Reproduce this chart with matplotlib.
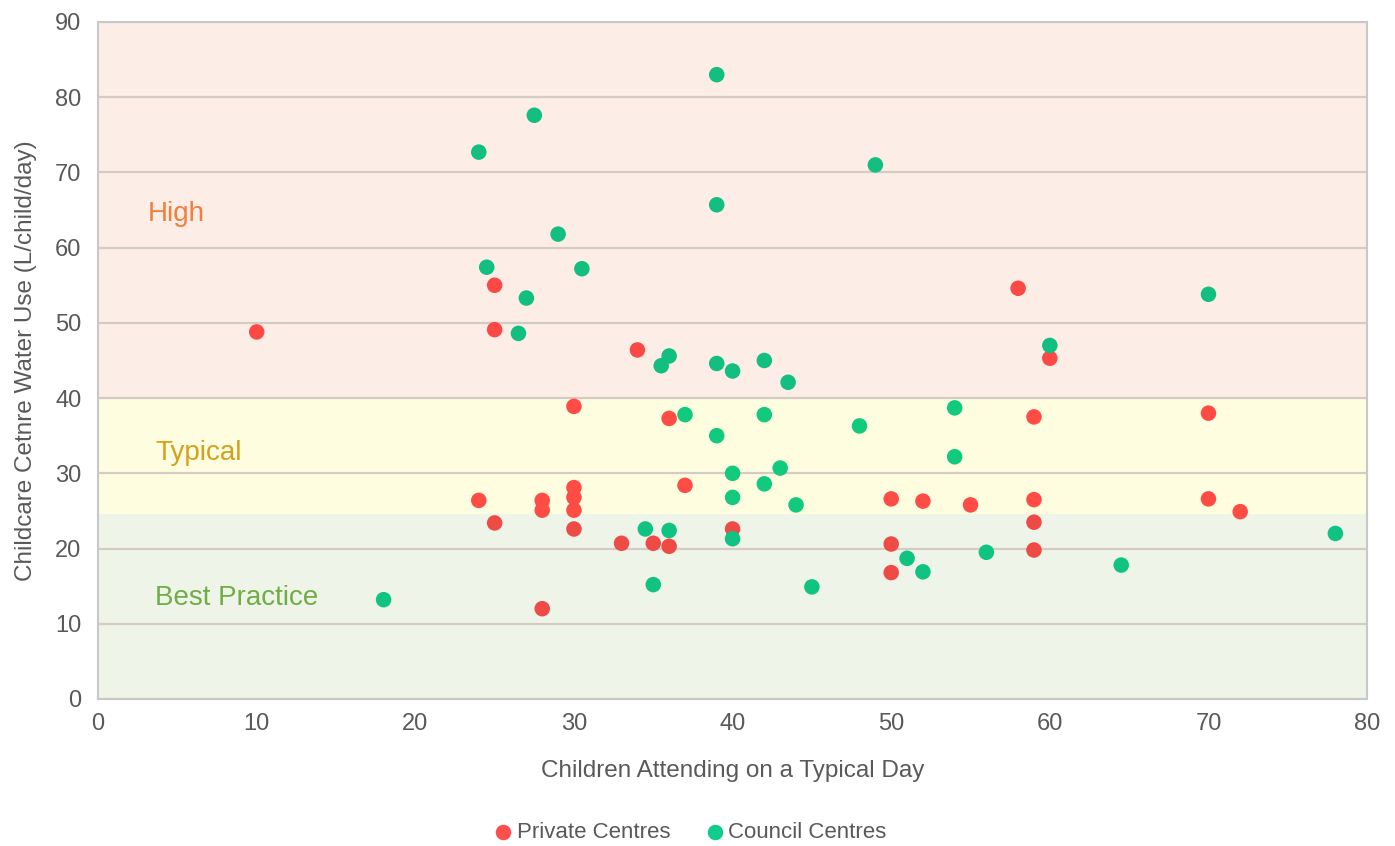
import numpy as np
import matplotlib
matplotlib.use("Agg")
import matplotlib.pyplot as plt
from matplotlib.colors import to_rgb

plt.rcParams['font.family'] = ['Liberation Sans', 'DejaVu Sans']

# children attending / water use (L/child/day)
privateX = [10, 25, 25, 34, 58, 60, 30, 36, 59, 70,
            37, 30, 30, 30, 28, 28, 24, 25, 30, 33,
            35, 36, 40, 28, 50, 50, 50, 52, 55, 59,
            59, 59, 70, 72]
privateY = [48.8, 55.0, 49.1, 46.4, 54.6, 45.3, 38.9, 37.3, 37.5, 38.0,
            28.4, 28.1, 26.8, 25.1, 26.4, 25.1, 26.4, 23.4, 22.6, 20.7,
            20.7, 20.3, 22.6, 12.0, 26.6, 20.6, 16.8, 26.3, 25.8, 26.5,
            23.5, 19.8, 26.6, 24.9]

councilX = [24, 27.5, 39, 49, 39, 29, 24.5, 30.5, 27, 26.5,
            36, 35.5, 39, 40, 42, 43.5, 60, 70, 37, 42,
            39, 48, 54, 54, 40, 43, 42, 40, 44, 34.5,
            36, 40, 35, 45, 51, 52, 56, 64.5, 78, 18]
councilY = [72.7, 77.6, 83.0, 71.0, 65.7, 61.8, 57.4, 57.2, 53.3, 48.6,
            45.6, 44.3, 44.6, 43.6, 45.0, 42.1, 47.0, 53.8, 37.8, 37.8,
            35.0, 36.3, 38.7, 32.2, 30.0, 30.7, 28.6, 26.8, 25.8, 22.6,
            22.4, 21.3, 15.2, 14.9, 18.7, 16.9, 19.5, 17.8, 22.0, 13.2]

bandNames = ["Best Practice", "Typical", "High"]
bandEdges = [0, 24.6, 40, 90]
bandFill = ["#EEF4E8", "#FFFDE0", "#FCEEE6"]
bandText = ["#70AD47", "#D4A11E", "#F07F3C"]
bandLabelX = [3.6, 3.6, 3.15]
bandLabelY = [13.4, 32.7, 64.5]

PRIVATE_COLOR = "#FF4E4E"
COUNCIL_COLOR = "#12CC8E"


def multiplyColors(baseColor, ys):
    # markers look multiplied onto the band behind them
    base = np.asarray(to_rgb(baseColor))
    out = []
    for y in ys:
        idx = np.searchsorted(bandEdges, y, side="right") - 1
        idx = min(max(idx, 0), len(bandFill) - 1)
        out.append(base * np.asarray(to_rgb(bandFill[idx])))
    return np.asarray(out)


fig = plt.figure(figsize=(13.95, 8.46), dpi=100)
ax = fig.add_axes([0.0703, 0.1738, 0.9097, 0.8002])

for i in range(len(bandNames)):
    ax.axhspan(bandEdges[i], bandEdges[i + 1], color=bandFill[i], lw=0, zorder=0)
    ax.text(bandLabelX[i], bandLabelY[i], bandNames[i], color=bandText[i], fontsize=20,
            va="center", ha="left", zorder=2)

ax.set_xlim(0, 80)
ax.set_ylim(0, 90)
ax.set_xticks(np.arange(0, 81, 10))
ax.set_yticks(np.arange(0, 91, 10))
ax.yaxis.grid(True, color="#D4CBC4", lw=1.6, zorder=1)
ax.set_axisbelow(True)
ax.tick_params(length=0, labelsize=17, labelcolor="#595959")
ax.tick_params(axis="x", pad=10)
ax.tick_params(axis="y", pad=12)
for sp in ax.spines.values():
    sp.set_color("#C8C8C8")
    sp.set_linewidth(1.5)

ax.scatter(privateX, privateY, s=125, c=multiplyColors(PRIVATE_COLOR, privateY),
           lw=0, zorder=3)
ax.scatter(councilX, councilY, s=125, c=multiplyColors(COUNCIL_COLOR, councilY),
           lw=0, zorder=3)

ax.set_xlabel("Children Attending on a Typical Day", fontsize=17.5, color="#595959",
              labelpad=18)
ax.set_ylabel("Childcare Cetnre Water Use (L/child/day)", fontsize=17.5,
              color="#595959", labelpad=13)

h1 = ax.scatter([], [], s=125, color=PRIVATE_COLOR, lw=0, label="Private Centres")
h2 = ax.scatter([], [], s=125, color=COUNCIL_COLOR, lw=0, label="Council Centres")
fig.legend(handles=[h1, h2], loc="center", bbox_to_anchor=(0.49, 0.016), ncol=2,
           frameon=False, fontsize=16, handletextpad=-0.4, columnspacing=1.0,
           labelcolor="#595959", markerscale=1.0)

fig.savefig("out.png", dpi=100)
